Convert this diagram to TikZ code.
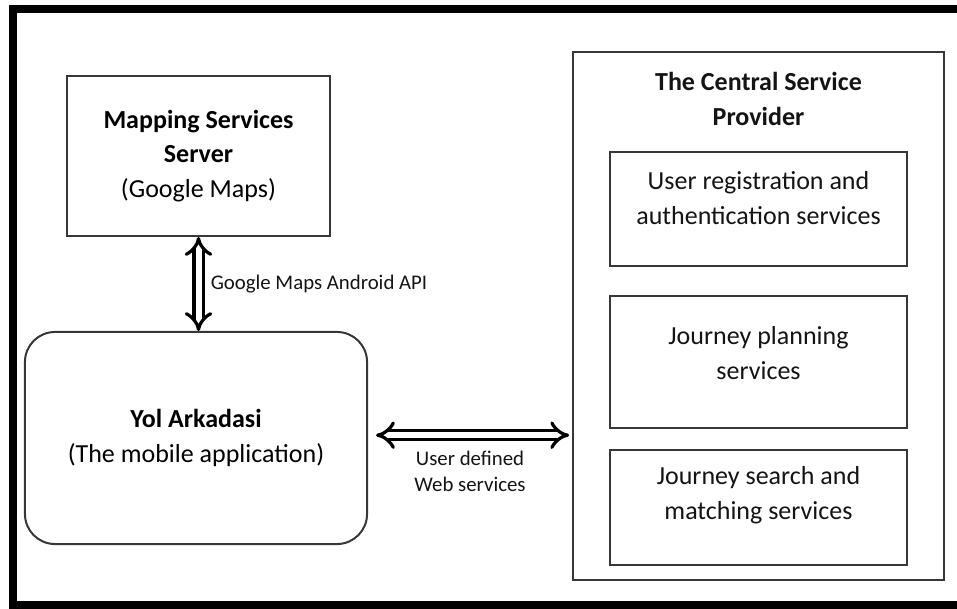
\documentclass[tikz,border=0pt]{standalone}
\usepackage{fontspec}
\setmainfont{Carlito}
\usepackage{tikz}
\usetikzlibrary{arrows.meta, positioning}
\definecolor{boxline}{RGB}{55,55,55}
\definecolor{mydark}{RGB}{20,20,20}
\tikzset{
  frame/.style={line width=0.2cm, color=black},
  box/.style={rectangle, draw=boxline, line width=0.05cm, align=center,
    font=\fontsize{18.5}{24.5}\selectfont, inner sep=0pt},
  svcbox/.style={rectangle, draw=boxline, line width=0.05cm,
    minimum width=7.425cm, inner sep=0pt},
  svctext/.style={align=center, font=\fontsize{18.5}{25}\selectfont, color=mydark},
  lbl/.style={font=\fontsize{14.8}{18}\selectfont, color=mydark, align=center},
  dblarrow/.style={double, double distance=0.15cm, line width=0.08cm,
    {Implies[scale=1.25]}-{Implies[scale=1.25]}}
}

\begin{document}
\begin{tikzpicture}[x=0.025cm, y=-0.025cm, node distance=0.5cm]
  \useasboundingbox (0,0) rectangle (957,609);
  \draw[frame] (957,9) -- (13,9) -- (13,605) -- (957,605);

  \node[box, minimum width=6.575cm, minimum height=4cm] (maps) at (198.5,156)
    {\textbf{Mapping Services}\\\textbf{Server}\\(Google Maps)};
  \node[box, rounded corners=0.75cm, minimum width=8.55cm, minimum height=5.3cm] (app) at (196,438)
    {\textbf{Yol Arkadasi}\\(The mobile application)};

  \node[box, minimum width=9.275cm, minimum height=13.2cm] (csp) at (758.5,316) {};
  \node[svctext, font=\fontsize{18.5}{24.5}\selectfont\bfseries] (csptitle) at ([yshift=-1.2cm]csp.north)
    {The Central Service\\Provider};

  \node[svcbox, minimum height=2.85cm, below=2.5cm of csp.north] (reg) {};
  \node[svcbox, minimum height=3.3cm, below=0.7cm of reg] (plan) {};
  \node[svcbox, minimum height=2.875cm, below=0.5cm of plan] (search) {};
  \node[svctext] (regtxt) at ([yshift=0.27cm]reg.center) {User registration and\\authentication services};
  \node[svctext] (plantxt) at ([yshift=0.22cm]plan.center) {Journey planning\\services};
  \node[svctext] (searchtxt) at ([yshift=0.3cm]search.center) {Journey search and\\matching services};

  \draw[dblarrow] (maps.south) -- (maps.south |- app.north)
    node[midway, right=0.15cm, lbl] (apilbl) {Google Maps Android API};
  \draw[dblarrow, shorten <=0.2cm, shorten >=0.07cm] ([yshift=0.07cm]app.east) -- ([yshift=0.07cm]app.east -| csp.west)
    node[midway, below=0.25cm, lbl] (wslbl) {User defined\\Web services};
\end{tikzpicture}
\end{document}
